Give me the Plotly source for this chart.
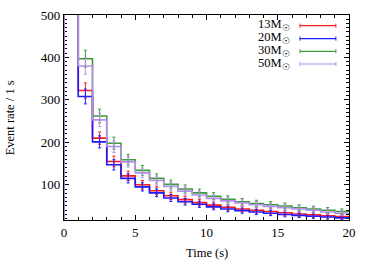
import plotly.graph_objects as go

# bin edges 0..20 s (1 s bins); first bin (0-1 s) is off-scale
edges = list(range(0, 21))
centers = [1.5, 2.5, 3.5, 4.5, 5.5, 6.5, 7.5, 8.5, 9.5, 10.5,
           11.5, 12.5, 13.5, 14.5, 15.5, 16.5, 17.5, 18.5, 19.5]

labels = ["13M<sub>☉</sub>", "20M<sub>☉</sub>", "30M<sub>☉</sub>", "50M<sub>☉</sub>"]
colors = ["#ff1a1a", "#1a1aff", "#3c9c3c", "#b68cf0"]

first_bin = [900, 880, 1000, 980]

m13 = [322, 210, 155, 121, 100, 86, 74, 65, 58, 52, 47, 43, 40, 37, 34, 31, 29, 27, 25]
m20 = [308, 201, 147, 115, 95, 81, 69, 60, 54, 48, 43, 39, 36, 33, 30, 28, 26, 24, 22]
m30 = [397, 262, 198, 159, 134, 115, 101, 90, 81, 73, 66, 60, 56, 53, 50, 46, 43, 40, 37]
m50 = [380, 253, 190, 154, 128, 110, 96, 85, 76, 68, 62, 57, 53, 49, 46, 43, 40, 36, 33]

e13 = [18, 14.5, 12.5, 11, 10, 9.3, 8.6, 8.1, 7.6, 7.2, 6.9, 6.6, 6.3, 6.1, 5.8, 5.6, 5.4, 5.2, 5.0]
e20 = [17.5, 14.2, 12.1, 10.7, 9.7, 9.0, 8.3, 7.7, 7.3, 6.9, 6.6, 6.2, 6.0, 5.7, 5.5, 5.3, 5.1, 4.9, 4.7]
e30 = [20, 16.2, 14.1, 12.6, 11.6, 10.7, 10, 9.5, 9, 8.5, 8.1, 7.7, 7.5, 7.3, 7.1, 6.8, 6.6, 6.3, 6.1]
e50 = [19.5, 15.9, 13.8, 12.4, 11.3, 10.5, 9.8, 9.2, 8.7, 8.2, 7.9, 7.5, 7.3, 7.0, 6.8, 6.6, 6.3, 6.0, 5.7]

series = [m13, m20, m30, m50]
errors = [e13, e20, e30, e50]

FONT = "Liberation Serif, Times New Roman, serif"

fig = go.Figure()
for name, col, fb, vals in zip(labels, colors, first_bin, series):
    xs = [edges[0]] + edges
    ys = [0, fb] + vals + [vals[-1]]
    fig.add_trace(go.Scatter(x=xs, y=ys, mode="lines", line_shape="hv",
                             line=dict(color=col, width=1.6), showlegend=False,
                             hoverinfo="skip"))
for name, col, vals, errs in zip(labels, colors, series, errors):
    fig.add_trace(go.Scatter(x=centers, y=vals, mode="markers",
                             marker=dict(size=1, color=col, opacity=0),
                             error_y=dict(type="data", array=errs, visible=True,
                                          color=col, thickness=1, width=1.5),
                             showlegend=False))

# manual gnuplot-style legend (text left, sample right)
row_y = [0.948, 0.885, 0.823, 0.761]
for name, col, yy in zip(labels, colors, row_y):
    fig.add_annotation(xref="paper", yref="paper", x=0.80, y=yy + 0.002,
                       text=name, showarrow=False, xanchor="right", yanchor="middle",
                       font=dict(family=FONT, size=12.5, color="black"))
    fig.add_shape(type="line", xref="paper", yref="paper", x0=0.828, x1=0.954,
                  y0=yy, y1=yy, line=dict(color=col, width=1.2))
    for xx in (0.828, 0.954):
        fig.add_shape(type="line", xref="paper", yref="paper", x0=xx, x1=xx,
                      y0=yy - 0.01, y1=yy + 0.01, line=dict(color=col, width=1))

fig.add_annotation(xref="paper", yref="paper", x=-0.19, y=0.5, text="Event rate / 1 s",
                   textangle=-90, showarrow=False, xanchor="center", yanchor="middle",
                   font=dict(family=FONT, size=12.5, color="black"))
fig.add_annotation(xref="paper", yref="paper", x=0.5, y=-0.16, text="Time (s)",
                   showarrow=False, xanchor="center", yanchor="middle",
                   font=dict(family=FONT, size=12.5, color="black"))

fig.update_xaxes(range=[0, 20], tickvals=[0, 5, 10, 15, 20], ticks="inside", ticklen=5,
                 tickcolor="black", showline=True, linecolor="black", linewidth=1.2,
                 mirror="allticks", showgrid=False, zeroline=False, automargin=False,
                 minor=dict(ticks="inside", dtick=1, ticklen=3, tickcolor="black"),
                 tickfont=dict(family=FONT, size=13, color="black"), layer="below traces")
fig.update_yaxes(range=[17, 500], tickvals=[100, 200, 300, 400, 500], ticks="inside", ticklen=5,
                 tickcolor="black", showline=True, linecolor="black", linewidth=1.2,
                 mirror="allticks", showgrid=False, zeroline=False, automargin=False,
                 minor=dict(ticks="inside", dtick=10, tick0=0, ticklen=3, tickcolor="black"),
                 tickfont=dict(family=FONT, size=13, color="black"), layer="below traces")

fig.update_layout(width=374, height=262, margin=dict(l=64, r=25, t=15, b=42),
                  plot_bgcolor="white", paper_bgcolor="white", showlegend=False)

fig.write_html("out.html", config={"displayModeBar": False},
               post_script="document.body.style.margin='0';document.body.style.overflow='hidden';")
